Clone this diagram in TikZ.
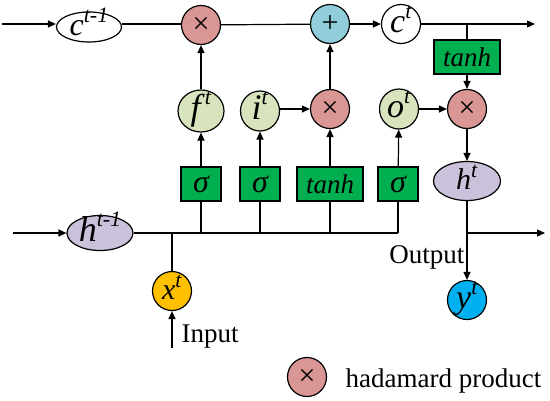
\documentclass[tikz,border=0pt]{standalone}
\usepackage{fontspec}
\setmainfont{Liberation Serif}[ItalicFont={Liberation Serif Italic}]
\usetikzlibrary{arrows.meta,shapes.geometric}
\definecolor{prodred}{HTML}{D99694}
\definecolor{sumblue}{HTML}{92CDDC}
\definecolor{gatecol}{HTML}{D7E4BD}
\definecolor{boxgreen}{HTML}{00B050}
\definecolor{lav}{HTML}{CCC1DA}
\definecolor{goldc}{HTML}{FFC000}
\definecolor{skyc}{HTML}{00B0F0}
\newcommand{\lbl}[3]{\makebox[0pt]{\raisebox{-0.3em}[0pt][0pt]{\fontsize{#1}{#1}\selectfont\textit{#2}\raisebox{0.4em}{\fontsize{22}{24}\selectfont\textit{#3}}}}}
\newcommand{\opsym}[1]{\makebox[0pt]{\raisebox{-0.3em}[0pt][0pt]{\fontsize{30}{32}\selectfont #1}}}
\begin{document}
\begin{tikzpicture}[x=1pt,y=-1pt,line width=1.2pt,
  >={Triangle[length=8pt,width=7pt]},
  font=\fontsize{27}{30}\selectfont,
  opnode/.style={circle,draw,minimum size=39pt,inner sep=0pt},
  prodnode/.style={opnode,fill=prodred},
  ellnode/.style={ellipse,draw,inner sep=0pt},
  gatebox/.style={rectangle,draw,fill=boxgreen,minimum width=40pt,minimum height=34pt,inner sep=0pt,font=\fontsize{27}{30}\selectfont\itshape},
  sigbox/.style={gatebox,font=\fontsize{32}{34}\selectfont\itshape}]
\useasboundingbox (0,0) rectangle (550,400);
% top row
\coordinate (cstart) at (2,24);
\node[ellnode,minimum width=65pt,minimum height=30pt] (cprev) at (89,27) {\lbl{32}{c}{t-1}};
\node[prodnode] (mulf) at (201,25) {\opsym{×}};
\node[opnode,fill=sumblue] (add) at (330,24) {\opsym{+}};
\node[opnode] (ct) at (401,24) {\lbl{34}{c}{t}};
\coordinate (cend) at (535,24);
\coordinate (cbr) at (467,24);
% second row
\node[ellnode,fill=gatecol,minimum width=46pt,minimum height=42pt] (ft) at (201,111) {\lbl{36}{f}{t}};
\node[ellnode,fill=gatecol,minimum width=39pt,minimum height=40pt] (it) at (260,111) {\lbl{36}{i}{t}};
\node[prodnode] (muli) at (330,109) {\opsym{×}};
\node[ellnode,fill=gatecol,minimum width=39pt,minimum height=40pt] (ot) at (399,109) {\lbl{34}{o}{t}};
\node[prodnode] (mulo) at (467,109) {\opsym{×}};
\node[gatebox,minimum width=66pt] (tanhc) at (467,57) {tanh};
% third row
\node[sigbox] (sf) at (201,184) {σ};
\node[sigbox] (si) at (260,184) {σ};
\node[gatebox,minimum width=66pt] (tg) at (330,184) {tanh};
\node[sigbox] (so) at (398,184) {σ};
\node[ellnode,fill=lav,minimum width=67pt,minimum height=39pt] (ht) at (467,181) {\lbl{30}{h}{t}};
% h row
\coordinate (hstart) at (13,233);
\node[ellnode,fill=lav,minimum width=66pt,minimum height=35pt] (hprev) at (100,233) {\lbl{36}{h}{t-1}};
\coordinate (hend) at (398,233);
\coordinate (hx) at (172,233);
\node[opnode,fill=goldc] (xt) at (172,291) {\lbl{30}{x}{t}};
\coordinate (inp) at (172,348);
\node[anchor=base west,inner sep=0pt] (inlbl) at (181,342) {Input};
\coordinate (obr) at (467,233);
\coordinate (oend) at (545,233);
\node[anchor=base east,inner sep=0pt] (outlbl) at (465,263) {Output};
\node[opnode,fill=skyc] (yt) at (467,300) {\lbl{34}{y}{t}};
% legend
\node[prodnode] (leg) at (307,377) {\opsym{×}};
\node[anchor=base west,inner sep=0pt] (legtxt) at (345,387) {hadamard product};
% connectors
\draw[->] (cstart) -- (cstart -| cprev.west);
\draw (cprev.east |- cstart) -- (mulf.west |- cstart);
\draw (mulf) -- (add);
\draw[->] (add) -- (ct);
\draw[->] (ct) -- (cend);
\draw (cbr) -- (tanhc);
\draw[->] (tanhc) -- (mulo);
\draw[->] (ft) -- (mulf);
\draw[->] (it.east |- muli) -- (muli);
\draw[->] (muli) -- (add);
\draw[->] (ot) -- (mulo);
\draw[->] (mulo) -- (ht);
\draw[->] (sf) -- (ft);
\draw[->] (si) -- (it);
\draw[->] (tg) -- (muli);
\draw[->] (so) -- (ot);
\draw[->] (hstart) -- (hprev);
\draw (hprev) -- (hend);
\draw (sf |- hend) -- (sf);
\draw (si |- hend) -- (si);
\draw (tg |- hend) -- (tg);
\draw (hend) -- (so);
\draw (hx) -- (xt);
\draw[->] (inp) -- (xt);
\draw[->] (ht) -- (yt);
\draw[->] (obr) -- (oend);
\end{tikzpicture}
\end{document}
